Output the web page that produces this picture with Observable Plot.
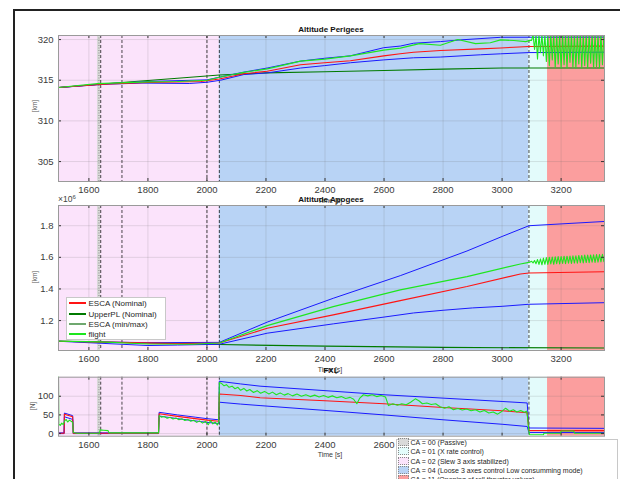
<!DOCTYPE html>
<html><head><meta charset="utf-8">
<script src="https://cdn.jsdelivr.net/npm/d3@7"></script>
<script src="https://cdn.jsdelivr.net/npm/@observablehq/plot@0.6"></script>
<style>
body{margin:0;background:#fff;}
#fig{position:relative;width:620px;height:479px;overflow:hidden;font-family:"Liberation Sans",Arial,sans-serif;background:#fff;}
.abs{position:absolute;white-space:nowrap;}
svg{overflow:visible;}
</style></head><body><div id="fig"></div>
<script>
// ---------- data ----------
const timeDomain = [1497, 3347];
const timeTicks = [1600, 1800, 2000, 2200, 2400, 2600, 2800, 3000, 3200];
const fxlTimeLabels = [1600, 1800, 2000, 2200, 2400, 2600];   // the rest are hidden under the mode legend
const perigeeTicks = [305, 310, 315, 320];
const apogeeTicks = [1.2, 1.4, 1.6, 1.8];      // x 10^6
const fxlTicks = [0, 50, 100];

const modeSpans = [
  {mode: "02", start: 1497, end: 2042},
  {mode: "00", start: 1629, end: 1640},
  {mode: "04", start: 2042, end: 3091},
  {mode: "01", start: 3091, end: 3154},
  {mode: "11", start: 3154, end: 3347}
];
const passiveMarker = [1634];
const eventTimes = [1640, 1712, 2000, 2042, 3091];

// Perigee [s, km]
const perigeeNominal = [[1497,314.1],[1650,314.5],[1800,314.72],[1900,314.78],[1980,314.85],[2042,315.15],[2125,315.8],[2204,316.1],[2317,316.9],[2399,317.15],[2486,317.4],[2599,318.0],[2655,318.25],[2700,318.45],[2791,318.65],[2927,318.86],[2995,318.96],[3040,319.06],[3091,319.15],[3347,319.2]];
const perigeeUpperPL = [[1497,314.1],[1700,314.7],[1900,315.25],[2042,315.65],[2200,315.9],[2400,316.05],[2600,316.2],[2800,316.37],[3000,316.5],[3347,316.5]];
const perigeeMax = [[1497,314.1],[1650,314.55],[1800,314.85],[2000,315.05],[2046,315.4],[2125,316.0],[2204,316.5],[2317,317.35],[2399,317.7],[2486,318.0],[2599,319.0],[2655,319.2],[2700,319.55],[2791,319.75],[2859,319.96],[2995,320.28],[3347,320.3]];
const perigeeMin = [[1497,314.1],[1650,314.5],[1780,314.65],[1940,314.6],[2000,314.75],[2046,315.0],[2125,315.7],[2204,315.9],[2317,316.5],[2399,316.8],[2486,317.15],[2599,317.5],[2700,317.76],[2791,317.85],[2927,318.13],[2995,318.25],[3091,318.4],[3347,318.45]];
const perigeeFlight = [[1497,314.1],[1629,314.58],[1700,314.68],[1800,314.8],[1900,314.85],[2000,315.0],[2046,315.4],[2114,315.9],[2204,316.4],[2317,317.35],[2399,317.6],[2486,318.0],[2599,318.7],[2655,318.95],[2720,319.5],[2791,319.3],[2850,320.0],[2910,319.5],[2960,319.6],[2995,319.96],[3040,319.88],[3080,319.75],[3095,319.9],
  [3100,319.9],[3105,320.6],[3110,318.8],[3115,320.6],[3120,317.6],[3125,320.6],[3130,318.4],[3135,320.6],[3140,318.0],[3145,320.6],[3150,317.3],[3155,320.6],[3160,316.8],[3165,320.6],[3170,317.5],[3175,320.6],[3180,316.6],[3185,320.6],[3190,317.0],[3195,320.6],[3200,316.5],[3205,320.6],[3210,316.9],[3215,320.6],[3220,316.5],[3225,320.6],[3230,317.2],[3235,320.6],[3240,316.6],[3245,320.6],[3250,316.5],[3255,320.6],[3260,317.0],[3265,320.6],[3270,316.5],[3275,320.6],[3280,316.8],[3285,320.6],[3290,316.5],[3295,320.6],[3300,317.1],[3305,320.6],[3310,316.5],[3315,320.6],[3320,316.7],[3325,320.6],[3330,316.5],[3335,320.6],[3340,316.9],[3345,320.6]];

// Apogee [s, x10^6]
const apogeeNominal = [[1497,1.069],[1700,1.062],[1900,1.055],[2042,1.058],[2204,1.151],[2428,1.236],[2655,1.326],[2881,1.415],[3062,1.495],[3091,1.501],[3347,1.509]];
const apogeeUpperPL = [[1497,1.069],[1800,1.058],[2042,1.048],[2400,1.038],[2800,1.03],[3347,1.026]];
const apogeeMax = [[1497,1.069],[1800,1.06],[2042,1.062],[2204,1.19],[2428,1.341],[2655,1.484],[2881,1.64],[3000,1.732],[3091,1.8],[3347,1.827]];
const apogeeMin = [[1497,1.069],[1800,1.042],[1900,1.045],[2042,1.05],[2204,1.12],[2428,1.179],[2600,1.222],[2700,1.248],[2800,1.265],[2900,1.28],[3000,1.29],[3091,1.303],[3347,1.313]];
const apogeeFlight = [[1497,1.07],[1640,1.065],[1800,1.052],[1950,1.05],[2042,1.058],[2204,1.168],[2428,1.288],[2655,1.394],[2881,1.478],[3062,1.558],[3091,1.568],
  [3095,1.57],[3100,1.575],[3105,1.565],[3110,1.58],[3115,1.56],[3120,1.586],[3125,1.555],[3130,1.59],[3135,1.553],[3140,1.595],[3145,1.556],[3150,1.598],[3155,1.555],[3160,1.6],[3165,1.558],[3170,1.602],[3175,1.556],[3180,1.603],[3185,1.56],[3190,1.605],[3195,1.558],[3200,1.605],[3205,1.561],[3210,1.607],[3215,1.56],[3220,1.607],[3225,1.563],[3230,1.608],[3235,1.561],[3240,1.61],[3245,1.564],[3250,1.61],[3255,1.563],[3260,1.612],[3265,1.566],[3270,1.612],[3275,1.565],[3280,1.614],[3285,1.567],[3290,1.614],[3295,1.566],[3300,1.615],[3305,1.569],[3310,1.616],[3315,1.568],[3320,1.617],[3325,1.57],[3330,1.618],[3335,1.571],[3340,1.619],[3345,1.572]];

// FXL [s, N]
const fxlNominal = [[1497,1],[1516,1],[1517,52],[1545,45],[1547,1],[1836,1],[1838,53],[1900,46],[2000,36],[2040,33],[2042,106],[2114,102],[2180,96],[2400,88],[2600,80],[2800,70],[3000,61],[3085,56],[3091,8],[3347,8]];
const fxlMax = [[1497,2],[1516,2],[1517,55],[1545,48],[1547,2],[1836,2],[1838,57],[1900,50],[1960,44],[2000,40],[2040,37],[2042,140],[2114,133],[2180,127],[2400,115],[2600,104],[2800,95],[3000,86],[3085,82],[3091,15],[3347,14]];
const fxlMin = [[1497,0],[1516,0],[1517,45],[1545,38],[1547,0],[1836,0],[1838,47],[1900,40],[2000,30],[2040,27],[2042,84],[2114,79],[2180,75],[2400,62],[2600,50],[2800,37],[3000,25],[3085,19],[3091,3],[3347,3]];
const fxlFlight = [[1497,160],[1498,25],[1503,22],[1508,28],[1513,24],[1518,34],[1523,38],[1528,31],[1534,36],[1540,33],[1545,30],[1547,3],[1560,1],[1636,1],[1638,10],[1650,9],[1665,8],[1668,2],[1836,2],[1838,48],[1845,44],[1855,46],[1865,41],[1875,44],[1885,39],[1895,42],[1905,37],[1915,40],[1925,35],[1935,38],[1945,33],[1955,36],[1965,30],[1975,34],[1985,28],[1995,33],[2005,24],[2012,35],[2020,26],[2028,31],[2035,23],[2040,30],[2042,137],[2050,134],[2058,128],[2066,131],[2075,124],[2085,127],[2095,120],[2105,124],[2114,116],[2125,121],[2135,114],[2145,118],[2158,110],[2170,115],[2182,108],[2195,113],[2210,106],[2222,111],[2235,104],[2248,109],[2262,103],[2275,107],[2290,101],[2305,106],[2320,100],[2335,104],[2350,99],[2365,103],[2380,98],[2395,102],[2410,97],[2425,101],[2440,96],[2455,99],[2470,94],[2485,97],[2497,92],[2508,80],[2518,95],[2530,104],[2545,101],[2560,104],[2575,99],[2590,102],[2605,98],[2615,75],[2630,80],[2645,76],[2660,80],[2675,77],[2690,84],[2706,93],[2718,88],[2730,80],[2745,82],[2760,78],[2775,80],[2790,72],[2805,68],[2820,72],[2835,64],[2850,67],[2865,63],[2880,66],[2895,61],[2910,64],[2925,58],[2940,62],[2955,55],[2970,58],[2985,52],[3000,60],[3012,68],[3025,60],[3038,64],[3050,58],[3063,62],[3075,57],[3083,60],[3086,45],[3090,12],[3093,-3],[3140,-3],[3142,1],[3198,1],[3200,7],[3243,7],[3245,1],[3347,1]];

const seriesNames = ["ESCA (Nominal)", "UpperPL (Nominal)", "ESCA (min/max)", "flight"];
const modeNames = ["CA = 00 (Passive)", "CA = 01 (X rate control)", "CA = 02 (Slew 3 axis stabilized)", "CA = 04 (Loose 3 axes control Low consumming mode)", "CA = 11 (Opening of roll thruster valves)"];

// ---------- styles ----------
const modeFill = {"00": "#d9d9d9", "01": "#e3fbfb", "02": "#fbe3fb", "04": "#b8d3f5", "11": "#fb9e9e"};
const C = {nominal: "#ff1414", upper: "#007a00", minmax: "#1a1aff", minmaxLegend: "#6fa86f", flight: "#1ee61e"};

const fig = document.getElementById("fig");
const W = 620, ML = 58, MR = 16;

function panel({top, height, mt, mb, yDomain, yTicks, yFormat, xLabels, lines}) {
  const fw = W - ML - MR, fh = height - mt - mb;
  const marks = [
    Plot.rect(modeSpans, {x1: "start", x2: "end", fill: d => modeFill[d.mode]}),
    Plot.ruleX(timeTicks, {stroke: "#6a6a6a", strokeOpacity: 0.22, strokeWidth: 0.8}),
    Plot.ruleY(yTicks, {stroke: "#6a6a6a", strokeOpacity: 0.22, strokeWidth: 0.8}),
    Plot.ruleX(passiveMarker, {stroke: "#8a8a8a", strokeDasharray: "1,1.5", strokeWidth: 1}),
    Plot.ruleX(eventTimes, {stroke: "#1c1c1c", strokeDasharray: "3,2", strokeWidth: 0.8}),
    ...lines.map(([data, color, w]) => Plot.line(data, {x: d => d[0], y: d => d[1], stroke: color, strokeWidth: w, clip: true})),
    Plot.ruleX(timeTicks, {insetTop: fh - 3, stroke: "#333"}),
    Plot.ruleX(timeTicks, {insetBottom: fh - 3, stroke: "#333"}),
    Plot.ruleY(yTicks, {insetRight: fw - 3, stroke: "#333"}),
    Plot.ruleY(yTicks, {insetLeft: fw - 3, stroke: "#333"}),
    Plot.frame({stroke: "#9a9a9a"})
  ];
  const svg = Plot.plot({
    width: W, height, marginTop: mt, marginBottom: mb, marginLeft: ML, marginRight: MR,
    style: {fontSize: "9.5px", color: "#3a3a3a", background: "transparent", fontFamily: "Liberation Sans, Arial, sans-serif"},
    color: {type: "identity"},
    x: {domain: timeDomain, ticks: xLabels, tickSize: 0, tickPadding: 5, label: null, tickFormat: d => String(d)},
    y: {domain: yDomain, ticks: yTicks, tickSize: 0, tickPadding: 5, label: null, tickFormat: yFormat},
    marks
  });
  svg.style.position = "absolute";
  svg.style.left = "0px";
  svg.style.top = top + "px";
  fig.appendChild(svg);
}

function text(str, x, y, css = "", anchor = "center") {
  const d = document.createElement("div");
  d.className = "abs";
  d.textContent = str;
  d.style.left = x + "px"; d.style.top = y + "px";
  const tx = anchor === "center" ? "-50%" : "0";
  d.style.transform = `translate(${tx},-50%)` + (css.includes("rot") ? " rotate(-90deg)" : "");
  d.style.cssText += css.replace("rot;", "");
  fig.appendChild(d);
  return d;
}

// figure border
const border = document.createElement("div");
border.className = "abs";
border.style.cssText += "left:13px;top:9px;width:700px;height:600px;border-left:2px solid #222;border-top:2px solid #222;";
fig.appendChild(border);

panel({top: 0, height: 200, mt: 35, mb: 19, yDomain: [302.55, 320.5], yTicks: perigeeTicks, yFormat: d => String(d), xLabels: timeTicks,
  lines: [[perigeeUpperPL, C.upper, 1.1], [perigeeMax, C.minmax, 1], [perigeeMin, C.minmax, 1], [perigeeNominal, C.nominal, 1.1], [perigeeFlight, C.flight, 1.1]]});
panel({top: 190, height: 175, mt: 15, mb: 15, yDomain: [1.0105, 1.928], yTicks: apogeeTicks, yFormat: d => d.toFixed(1), xLabels: timeTicks,
  lines: [[apogeeUpperPL, C.upper, 1.1], [apogeeMax, C.minmax, 1], [apogeeMin, C.minmax, 1], [apogeeNominal, C.nominal, 1.1], [apogeeFlight, C.flight, 1.1]]});
panel({top: 370, height: 109, mt: 6.7, mb: 43.3, yDomain: [-7, 151], yTicks: fxlTicks, yFormat: d => String(d), xLabels: fxlTimeLabels,
  lines: [[fxlMax, C.minmax, 1], [fxlMin, C.minmax, 1], [fxlNominal, C.nominal, 1.1], [fxlFlight, C.flight, 1.1]]});

// axis labels & titles
const lab = "font-size:7px;color:#3a3a3a;";
const ttl = "font-size:8px;font-weight:bold;color:#111;";
text("Time [s]", 330, 199.5, lab);
text("Time [s]", 330, 369, lab);
text("Time [s]", 330, 454, lab);
text("Altitude Perigees", 331, 29, ttl);
text("Altitude Apogees", 331, 198.5, ttl);
text("FXL", 331, 369.5, ttl);
text("[km]", 33.5, 106, "font-size:6.5px;color:#555;rot;");
text("[km]", 33.5, 277, "font-size:6.5px;color:#555;rot;");
text("[N]", 31.5, 406, "font-size:6.5px;color:#555;rot;");
const mult = text("", 58, 198.5, "font-size:8.5px;color:#444;", "left");
mult.innerHTML = "&times;10<sup style='font-size:6px'>6</sup>";

// series legend
const sl = document.createElement("div");
sl.className = "abs";
sl.style.cssText += "left:66px;top:297px;width:100px;height:43px;background:#fff;border:1px solid #c8c8c8;box-sizing:border-box;";
fig.appendChild(sl);
const slColors = [C.nominal, C.upper, C.minmaxLegend, C.flight];
const slY = [303.3, 313.7, 323.7, 334];
seriesNames.forEach((name, i) => {
  const ln = document.createElement("div");
  ln.className = "abs";
  ln.style.cssText += `left:69px;top:${slY[i] - 1}px;width:17px;height:2px;background:${slColors[i]};`;
  fig.appendChild(ln);
  text(name, 88.5, slY[i], "font-size:8px;color:#262626;", "left");
});

// mode legend
const ml = document.createElement("div");
ml.className = "abs";
ml.style.cssText += "left:396px;top:439px;width:222px;height:60px;background:#fff;border:1px solid #c8c8c8;box-sizing:border-box;";
fig.appendChild(ml);
const mlKeys = ["00", "01", "02", "04", "11"];
const mlY = [441.7, 451, 460.6, 470, 479.3];
modeNames.forEach((name, i) => {
  const sw = document.createElement("div");
  sw.className = "abs";
  sw.style.cssText += `left:398px;top:${mlY[i] - 4}px;width:11px;height:8px;background:${modeFill[mlKeys[i]]};border:1px dotted #8a8a8a;box-sizing:border-box;`;
  fig.appendChild(sw);
  text(name, 410.5, mlY[i], "font-size:7px;color:#262626;", "left");
});
</script></body></html>
